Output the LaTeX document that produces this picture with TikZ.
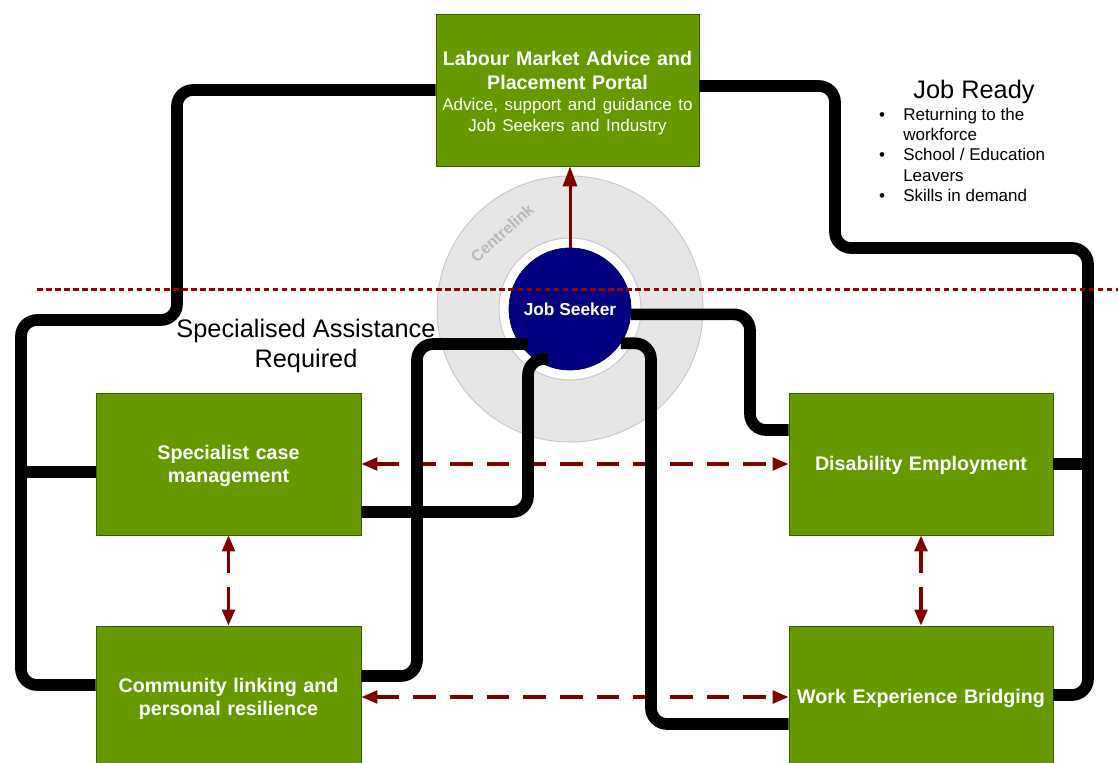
\documentclass[tikz,border=0pt]{standalone}
\usepackage{fontspec}
\setmainfont{Liberation Sans}
\usetikzlibrary{arrows.meta,calc}
\definecolor{boxgreen}{HTML}{669900}
\definecolor{boxedge}{HTML}{3D5C00}
\definecolor{darkred}{HTML}{800000}
\definecolor{seekblue}{HTML}{000080}
\definecolor{ringgrey}{HTML}{E6E6E6}
\definecolor{ringedge}{HTML}{C8C8C8}
\definecolor{sepred}{HTML}{990000}
\begin{document}
\begin{tikzpicture}[x=0.75pt,y=-0.75pt,
  box/.style={draw=boxedge, line width=0.6pt, fill=boxgreen, text=white,
    font={\bfseries\fontsize{14.75}{17.25}\selectfont}, align=center, inner sep=0pt,
    text width=190pt, minimum width=198.75pt, minimum height=106.5pt},
  conn/.style={draw=black, line width=8.75pt, rounded corners=12pt, line cap=butt, line join=round},
  darr/.style={draw=darkred, line width=2.5pt, dash pattern=on 17pt off 10.5pt,
    {Triangle[length=12pt,width=9.5pt]}-{Triangle[length=12pt,width=9.5pt]}},
  plain/.style={font={\fontsize{19}{22.5}\selectfont}, inner sep=0pt, anchor=base},
  bul/.style={font={\fontsize{12.75}{15}\selectfont}, inner sep=0pt, anchor=base west},
  bdot/.style={font={\fontsize{12.75}{15}\selectfont}, inner sep=0pt, anchor=base}
]
\useasboundingbox (0,0) rectangle (1118,763);

% Centrelink ring
\node[circle, fill=ringgrey, draw=ringedge, line width=0.75pt, minimum size=199.5pt, inner sep=0pt] (ring) at (570,309) {};
\node[circle, fill=white, draw=ringedge, line width=0.75pt, minimum size=106.5pt, inner sep=0pt] (ringin) at (570,309) {};
\node[rotate=42, text=ringedge!92!black, font={\bfseries\fontsize{12}{14}\selectfont}] (cent) at (502,233) {Centrelink};

% Boxes
\node[box, minimum width=197.25pt, minimum height=114pt] (lm) at (567.5,90)
  {{\bfseries\fontsize{14.75}{18}\selectfont\rule{0pt}{15.5pt}Labour Market Advice and\\Placement Portal\par}
   {\mdseries\fontsize{12.75}{15.75}\selectfont Advice, support and guidance to\\Job Seekers and Industry\par}};
\node[box] (scm) at (228.5,464) {\rule{0pt}{14pt}Specialist case\\management};
\node[box] (cl) at (228.5,697) {\rule{0pt}{14pt}Community linking and\\personal resilience};
\node[box, minimum width=198pt] (de) at (921,464) {\rule{0pt}{12.5pt}Disability Employment};
\node[box, minimum width=198pt] (web) at (921,697) {\rule{0pt}{12.5pt}Work Experience Bridging};

% Free texts
\node[plain] (spec1) at (306,337) {Specialised Assistance};
\node[plain] (spec2) at (306,367) {Required};
\node[plain] (ready) at (974,99) {Job Ready};
\node[bdot] (d1) at (882,121) {•};
\node[bul] (t1) at (903,121) {Returning to the};
\node[bul] (t2) at (903,141) {workforce};
\node[bdot] (d2) at (882,161) {•};
\node[bul] (t3) at (903,161) {School / Education};
\node[bul] (t4) at (903,182) {Leavers};
\node[bdot] (d3) at (882,202) {•};
\node[bul] (t5) at (903,202) {Skills in demand};

% Dashed two-way arrows
\draw[darr] (scm.east) -- (de.west);
\draw[darr] (cl.east) -- (web.west);
\draw[darr] (scm.south) -- (cl.north);
\draw[darr] (de.south) -- (web.north);

% Job seeker
\node[circle, fill=seekblue, draw=seekblue!70!black, line width=0.5pt, minimum size=91.5pt, inner sep=0pt,
  text=white, font={\bfseries\fontsize{13}{15}\selectfont}] (js) at (570,309) {Job Seeker};

% Connectors
\coordinate (p1a) at (177,320);
\coordinate (p1b) at (21,685);
\coordinate (p1c) at (21,472);
\draw[conn] (lm.west) -| (p1a) -| (p1b) -- (cl.west |- p1b);
\draw[conn] (p1c) -- (scm.west |- p1c);

\coordinate (p2o) at (700,86);
\coordinate (p2a) at (835,248);
\coordinate (p2b) at (1088,695);
\coordinate (p2c) at (1088,464);
\draw[conn] (lm.east |- p2o) -| (p2a) -| (p2b) -- (web.east |- p2b);
\draw[conn] (p2c) -- (de.east |- p2c);

\coordinate (p3a) at (750,430);
\draw[conn] (js.-5) -| (p3a) -- (de.west |- p3a);

\coordinate (p4a) at (651,724);
\draw[conn] (js.-34) -| (p4a) -- (web.west |- p4a);

\coordinate (p5a) at (417,676);
\draw[conn] ($(js.center)+(-42,35)$) -| (p5a) -- (cl.east |- p5a);

\coordinate (p6a) at (528,512);
\draw[conn] ($(js.center)+(-22,50)$) -| (p6a) -- (scm.east |- p6a);

% Job seeker to portal
\draw[draw=darkred, line width=2.25pt, -{Triangle[length=15pt,width=10.5pt]}] (js.north) -- (js.north |- lm.south);

% Separator
\coordinate (sepL) at (37,289);
\coordinate (sepR) at (1118,289);
\draw[draw=sepred, line width=2.25pt, dash pattern=on 4.2pt off 2.6pt] (sepL) -- (sepR);
\end{tikzpicture}
\end{document}
